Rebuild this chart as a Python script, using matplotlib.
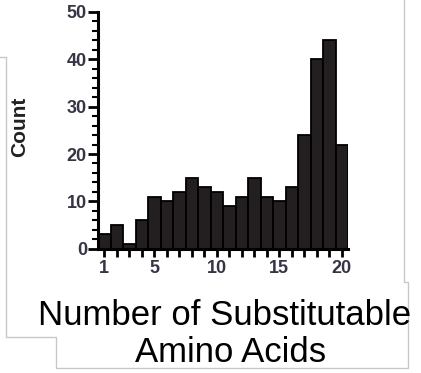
import numpy as np
import matplotlib
matplotlib.use('Agg')
import matplotlib.pyplot as plt
from matplotlib.lines import Line2D

n_substitutable = np.arange(1, 21)
counts = [3, 5, 1, 6, 11, 10, 12, 15, 13, 12, 9, 11, 15, 11, 10, 13, 24, 40, 44, 22]
x_tick_labels = [1, 5, 10, 15, 20]
y_tick_labels = [0, 10, 20, 30, 40, 50]

plt.rcParams['font.family'] = ['Liberation Sans', 'DejaVu Sans']

W, H = 421, 373
fig = plt.figure(figsize=(W / 100, H / 100), dpi=100)
ax = fig.add_axes([98 / W, 124.3 / H, 250 / W, 236.7 / H])

ax.bar(n_substitutable, counts, width=1.0, color='#231f20', edgecolor='black', linewidth=1.3)

ax.set_xlim(0.5, 20.5)
ax.set_ylim(0, 50)
ax.set_xticks(n_substitutable)
ax.set_xticklabels([str(v) if v in x_tick_labels else '' for v in n_substitutable])
ax.set_yticks(y_tick_labels)
ax.set_yticks(np.arange(0, 51, 2), minor=True)

tick_col = '#353545'
ax.tick_params(axis='y', which='major', length=7, width=2, direction='out', pad=1,
               labelsize=13, labelcolor=tick_col)
ax.tick_params(axis='y', which='minor', length=4, width=1.5, direction='out')
ax.tick_params(axis='x', which='major', length=6, width=2, direction='out', pad=2,
               labelsize=13, labelcolor=tick_col)
for lbl in ax.get_xticklabels() + ax.get_yticklabels():
    lbl.set_fontweight('bold')

for side in ['top', 'right']:
    ax.spines[side].set_visible(False)
ax.spines['left'].set_linewidth(2.2)
ax.spines['bottom'].set_linewidth(2.2)

fig.text(20 / W, 1 - 127 / H, 'Count', rotation=90, ha='center', va='center',
         fontsize=15, fontweight='bold', color='#222222')
fig.text(224.5 / W, 1 - 325 / H, 'Number of Substitutable', ha='center', va='baseline',
         fontsize=25, color='black')
fig.text(231 / W, 1 - 361.5 / H, 'Amino Acids', ha='center', va='baseline',
         fontsize=25, color='black')

# light grey frame lines from the screenshot
frame_x = [0, 6, 6, 56, 56, 408, 408, 404, 404]
frame_y = [57, 57, 337, 337, 368, 368, 282, 282, 0]
fig.add_artist(Line2D([x / W for x in frame_x], [1 - y / H for y in frame_y],
                      color='#c8c8c8', linewidth=1.0, transform=fig.transFigure))

fig.savefig('out.png', dpi=100)
